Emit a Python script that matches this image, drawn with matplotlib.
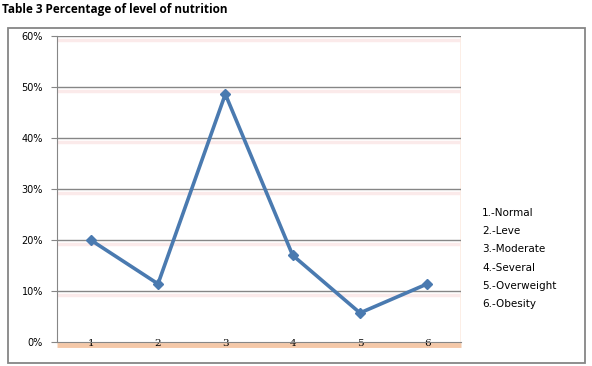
import matplotlib.pyplot as plt
from matplotlib.patches import Rectangle
import matplotlib.transforms as mtransforms

categories = ["1", "2", "3", "4", "5", "6"]
values = [0.20, 0.114, 0.486, 0.170, 0.057, 0.114]
legend_labels = ["1.-Normal", "2.-Leve", "3.-Moderate", "4.-Several", "5.-Overweight", "6.-Obesity"]
yticks = [0, 0.1, 0.2, 0.3, 0.4, 0.5, 0.6]
ytick_labels = ["0%", "10%", "20%", "30%", "40%", "50%", "60%"]

W, H = 592, 366
fig = plt.figure(figsize=(W / 100, H / 100), dpi=100)

# outer chart border
fig.patches.append(Rectangle((8 / W, 1 - 362.5 / H), (584.5 - 8) / W, (362.5 - 27.5) / H,
                             transform=fig.transFigure, fill=False, edgecolor="#868686", linewidth=1.3))

fig.text(2 / W, 1 - 10 / H, "Table 3 Percentage of level of nutrition", fontsize=8.5, fontweight="bold",
         family="Open Sans", va="center", ha="left")

left, right, top, bottom = 57, 461, 36, 342
ax = fig.add_axes([left / W, 1 - bottom / H, (right - left) / W, (bottom - top) / H])

x = list(range(len(categories)))
ax.set_xlim(-0.5, len(categories) - 0.5)
ax.set_ylim(0, 0.6)

# pink shadow lines under gridlines
shadow = mtransforms.offset_copy(ax.transData, fig=fig, x=0, y=-4, units="dots")
for yv in yticks[1:]:
    ax.plot([-0.5, len(categories) - 0.5], [yv, yv], color="#fbeaea", lw=2.5, transform=shadow, zorder=0,
            solid_capstyle="butt")
for yv in yticks[1:]:
    ax.axhline(yv, color="#868686", lw=1, zorder=1)

# orange shadow under x axis
shadow2 = mtransforms.offset_copy(ax.transData, fig=fig, x=0, y=-2.5, units="dots")
ax.plot([-0.5, len(categories) - 0.5], [0, 0], color="#f4c8a8", lw=3.5, transform=shadow2, zorder=0,
        solid_capstyle="butt", clip_on=False)
# faint right edge shadow
ax.plot([len(categories) - 0.5, len(categories) - 0.5], [0, 0.6], color="#fcece4", lw=2, zorder=0)

ax.plot(x, values, color="#4a7ab0", lw=2.6, marker="D", markersize=5.5, zorder=3, clip_on=False)

for s in ["top", "right"]:
    ax.spines[s].set_visible(False)
ax.spines["left"].set_color("#868686")
ax.spines["bottom"].set_color("#868686")

ax.set_yticks(yticks)
ax.set_yticklabels(ytick_labels)
ax.set_xticks(x)
ax.set_xticklabels(categories, family="DejaVu Serif")
ax.tick_params(axis="y", length=4, color="#868686", labelsize=7, pad=6)
ax.tick_params(axis="x", length=0, labelsize=7.5, pad=-2)
for lab in ax.get_xticklabels():
    lab.set_zorder(5)

for i, lab in enumerate(legend_labels):
    fig.text(482 / W, 1 - (213 + i * 18.2) / H, lab, fontsize=7.5, va="center", ha="left")

fig.savefig("out.png", dpi=100)
